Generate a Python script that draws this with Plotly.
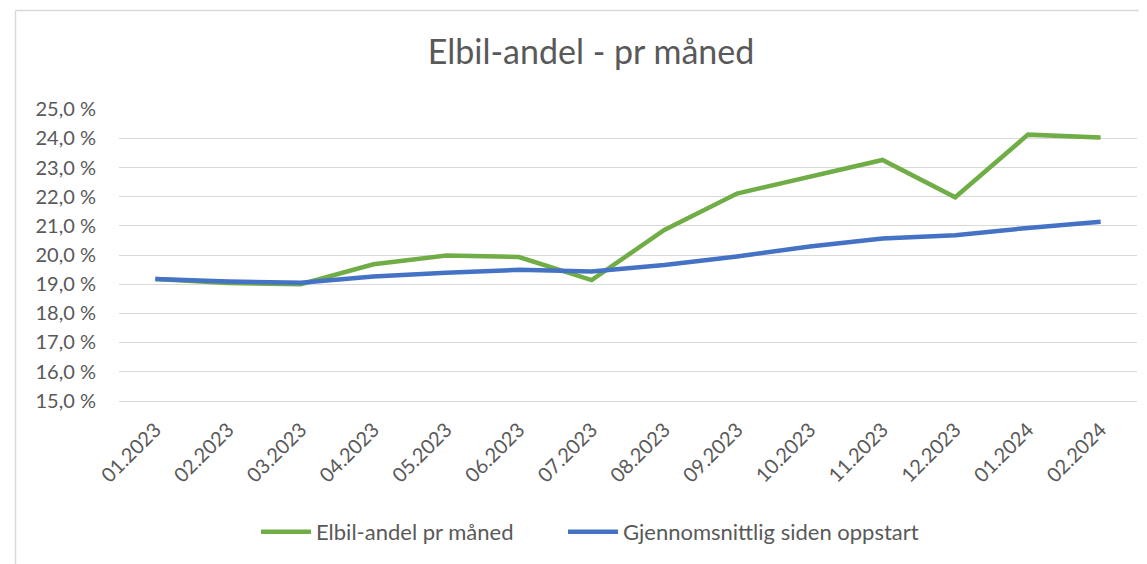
import plotly.graph_objects as go

months = ["01.2023", "02.2023", "03.2023", "04.2023", "05.2023", "06.2023", "07.2023",
          "08.2023", "09.2023", "10.2023", "11.2023", "12.2023", "01.2024", "02.2024"]
elbil_andel = [19.18, 19.04, 19.00, 19.68, 19.98, 19.93, 19.14,
               20.86, 22.11, 22.68, 23.26, 21.98, 24.13, 24.03]
gjennomsnitt = [19.18, 19.09, 19.05, 19.26, 19.39, 19.49, 19.43,
                19.66, 19.95, 20.29, 20.57, 20.68, 20.93, 21.14]
y_ticks = [15, 16, 17, 18, 19, 20, 21, 22, 23, 24, 25]
y_tick_labels = ["15,0 %", "16,0 %", "17,0 %", "18,0 %", "19,0 %", "20,0 %",
                 "21,0 %", "22,0 %", "23,0 %", "24,0 %", "25,0 %"]

OFF = 8  # page body margin
W, H = 1147 - OFF, 564 - OFF
PL, PR, PT, PB = 119 - OFF, 1137 - OFF, 109 - OFF, 401 - OFF
ML, MR, MT, MB = PL, W - PR, PT, H - PB
PW, PH = PR - PL, PB - PT
TXT = "#595959"
FONT = "Lato"

fig = go.Figure()
fig.add_trace(go.Scatter(x=months, y=elbil_andel, mode="lines", name="Elbil-andel pr måned",
                         line=dict(color="#70AD47", width=4.5), legend="legend"))
fig.add_trace(go.Scatter(x=months, y=gjennomsnitt, mode="lines", name="Gjennomsnittlig siden oppstart",
                         line=dict(color="#4472C4", width=4.5), legend="legend2"))

def px_x(p):
    return (p - OFF - PL) / PW

def px_y(p):
    return (PB - (p - OFF)) / PH

# chart area border (top and left visible)
fig.add_shape(type="line", xref="paper", yref="paper", x0=px_x(15.5), x1=px_x(1160),
              y0=px_y(10.5), y1=px_y(10.5), line=dict(color="#d9d9d9", width=1.5))
fig.add_shape(type="line", xref="paper", yref="paper", x0=px_x(15.5), x1=px_x(15.5),
              y0=px_y(10.5), y1=px_y(580), line=dict(color="#d9d9d9", width=1.5))

leg_common = dict(orientation="h", xanchor="left", y=px_y(532), yanchor="middle",
                  font=dict(size=22, color=TXT, family=FONT), itemwidth=50,
                  bgcolor="rgba(0,0,0,0)")

fig.update_layout(
    width=W, height=H,
    margin=dict(l=ML, r=MR, t=MT, b=MB),
    paper_bgcolor="white", plot_bgcolor="white",
    font=dict(family=FONT, color=TXT, size=16),
    title=dict(text="Elbil-andel - pr måned", x=(591 - OFF) / W, xanchor="center",
               y=1 - (52 - OFF) / H, yanchor="middle", font=dict(size=34, color=TXT, family=FONT)),
    showlegend=True,
    legend=dict(x=px_x(256), **leg_common),
    legend2=dict(x=px_x(563), **leg_common),
    xaxis=dict(type="category", tickangle=-45, showgrid=False, showline=True,
               linecolor="#d9d9d9", linewidth=1.3, ticks="", tickfont=dict(size=20, color=TXT),
               ticklabelstandoff=8,
               range=[-0.5, len(months) - 0.5], fixedrange=True),
    yaxis=dict(range=[14.99, 25.01], tickvals=y_ticks, ticktext=y_tick_labels,
               showgrid=True, gridcolor="#d9d9d9", gridwidth=1.3, zeroline=False,
               ticks="", ticklabelstandoff=22, tickfont=dict(size=20, color=TXT)),
)

fig.write_html("out.html")
